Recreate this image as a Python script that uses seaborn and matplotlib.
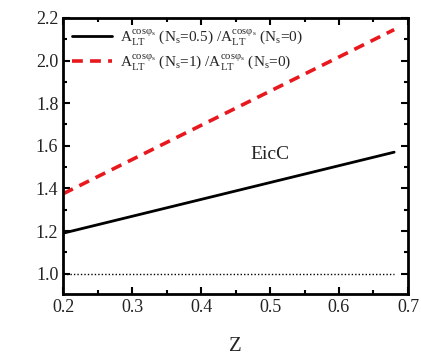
import matplotlib
matplotlib.use("Agg")
import matplotlib.pyplot as plt
import seaborn as sns
import pandas as pd
from matplotlib.ticker import MultipleLocator

# Ratio curves versus Z
z_vals = [0.2, 0.68]
ratio_half = [1.19, 1.57]
ratio_one = [1.375, 2.145]
baseline = [1.0, 1.0]

label_half = r"$\mathrm{A_{LT}^{cos\varphi_s}}$ (N$_\mathrm{s}$=0.5) /$\mathrm{A_{LT}^{cos\varphi_s}}$ (N$_\mathrm{s}$=0)"
label_one = r"$\mathrm{A_{LT}^{cos\varphi_s}}$ (N$_\mathrm{s}$=1) /$\mathrm{A_{LT}^{cos\varphi_s}}$ (N$_\mathrm{s}$=0)"

sns.set_style("ticks")
plt.rcParams["font.family"] = ["Liberation Serif", "DejaVu Serif"]
plt.rcParams["mathtext.fontset"] = "custom"
plt.rcParams["mathtext.rm"] = "Liberation Serif"
plt.rcParams["mathtext.it"] = "Liberation Serif:italic"

df = pd.DataFrame({"z": z_vals, "half": ratio_half, "one": ratio_one, "base": baseline})

fig = plt.figure(figsize=(4.21, 3.58), dpi=100)
ax = fig.add_axes([0.150, 0.179, 0.819, 0.771])

sns.lineplot(data=df, x="z", y="half", ax=ax, color="black", linewidth=2.0, label=label_half)
sns.lineplot(data=df, x="z", y="one", ax=ax, color="#e8191e", linewidth=2.6,
             linestyle=(0, (3, 2)), label=label_one)
sns.lineplot(data=df, x="z", y="base", ax=ax, color="black", linewidth=1.0,
             linestyle=(0, (1, 1.5)))

ax.text(0.50, 1.56, "EicC", fontsize=14, ha="center", va="center")

ax.set_xlim(0.2, 0.7)
ax.set_ylim(0.905, 2.2)
ax.xaxis.set_major_locator(MultipleLocator(0.1))
ax.xaxis.set_minor_locator(MultipleLocator(0.05))
ax.yaxis.set_major_locator(MultipleLocator(0.2))
ax.yaxis.set_minor_locator(MultipleLocator(0.1))
ax.xaxis.set_major_formatter(plt.FuncFormatter(lambda v, p: f"{v:.1f}"))
ax.yaxis.set_major_formatter(plt.FuncFormatter(lambda v, p: f"{v:.1f}"))

ax.tick_params(which="both", direction="in", top=True, right=True, labelsize=13,
               width=1.5, color="black", labelcolor="#222222")
ax.tick_params(which="major", length=5)
ax.tick_params(which="minor", length=3)
for s in ax.spines.values():
    s.set_linewidth(2.0)
    s.set_color("black")

ax.set_xlabel("Z", fontsize=15, labelpad=15)
ax.set_ylabel("")

leg = ax.legend(loc="upper left", frameon=False, fontsize=11, handlelength=2.6,
                borderaxespad=0.2, labelspacing=0.4, handletextpad=0.5)

fig.savefig("out.png", dpi=100)
